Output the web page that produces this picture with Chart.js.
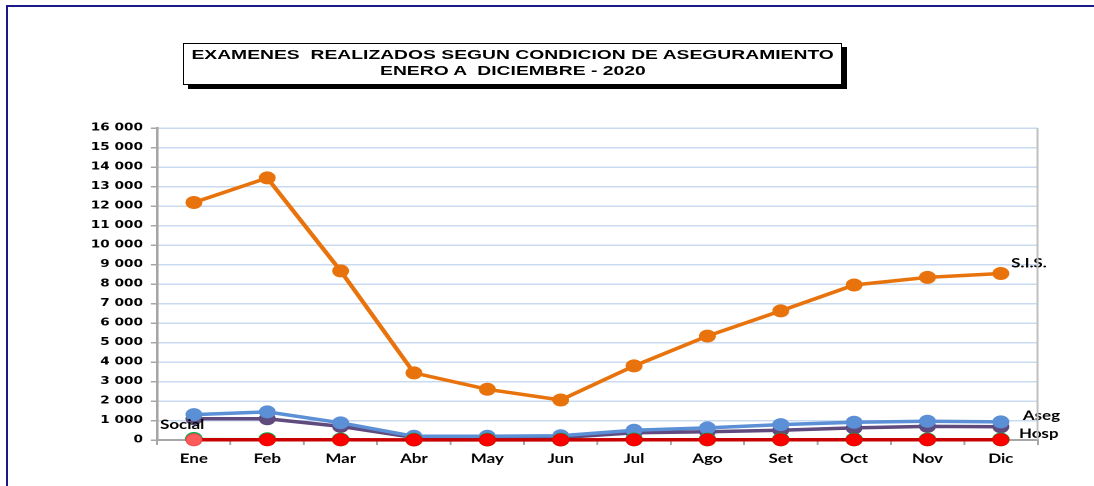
<!DOCTYPE html>
<html lang="es">
<head>
<meta charset="UTF-8">
<title>Examenes realizados 2020</title>
<script src="https://cdn.jsdelivr.net/npm/chart.js"></script>
<style>
  html, body { margin: 0; padding: 0; background: #fff; overflow: hidden; }
  body { width: 1094px; height: 486px; position: relative; }
  #marco {
    position: absolute; left: 6px; top: 5px; width: 1200px; height: 600px;
    border-left: 2px solid #1a1a86; border-top: 2px solid #1a1a86;
  }
  #titulo {
    position: absolute; left: 183px; top: 43px; width: 657px; height: 37px;
    border: 1px solid #000; background: #fff; box-shadow: 5px 4px 0 #000;
    font-family: "Liberation Sans", Arial, sans-serif; font-weight: bold;
    font-size: 13.5px; line-height: 16px; text-align: center; padding-top: 3px;
    box-sizing: content-box;
  }
  #titulo span { display: inline-block; transform: scaleX(1.43); white-space: pre; }
  /* el grafico original esta estirado a lo ancho */
  #lienzo {
    position: absolute; left: 0; top: 0; width: 842px; height: 486px;
    transform-origin: 0 0; transform: scaleX(1.2993);
  }
</style>
</head>
<body>
<div id="marco"></div>
<div id="lienzo"><canvas id="myChart" width="842" height="486" style="width:842px;height:486px"></canvas></div>
<div id="titulo"><span>EXAMENES  REALIZADOS SEGUN CONDICION DE ASEGURAMIENTO</span><br><span>ENERO A  DICIEMBRE - 2020</span></div>

<script>
  const meses = ['Ene', 'Feb', 'Mar', 'Abr', 'May', 'Jun', 'Jul', 'Ago', 'Set', 'Oct', 'Nov', 'Dic'];
  const sis = [12180, 13440, 8670, 3440, 2600, 2050, 3800, 5330, 6620, 7950, 8340, 8540];
  const aseg = [1300, 1440, 880, 190, 190, 220, 500, 620, 790, 910, 960, 930];
  const hosp = [1090, 1090, 700, 130, 120, 120, 370, 420, 500, 620, 700, 680];
  const social = [60, 50, 30, 20, 20, 20, 30, 30, 30, 30, 30, 30];
  const otros = [10, 10, 10, 5, 5, 5, 10, 10, 10, 10, 10, 10];
  const yLabels = ['0', '1 000', '2 000', '3 000', '4 000', '5 000', '6 000', '7 000', '8 000',
    '9 000', '10 000', '11 000', '12 000', '13 000', '14 000', '15 000', '16 000'];

  // etiquetas de serie junto a un punto
  const etiquetas = [
    { serie: 'S.I.S.', idx: 11, texto: 'S.I.S.', dx: 8, dy: -10 },
    { serie: 'Aseg', idx: 11, texto: 'Aseg', dx: 17, dy: -6 },
    { serie: 'Hosp', idx: 11, texto: 'Hosp', dx: 14, dy: 7 },
    { serie: 'Social', idx: 0, texto: 'Social', dx: -26, dy: -14 }
  ];

  const etiquetasPlugin = {
    id: 'etiquetas',
    afterDatasetsDraw(chart) {
      const ctx = chart.ctx;
      ctx.save();
      ctx.font = 'bold 13px Lato, sans-serif';
      ctx.fillStyle = '#000';
      ctx.textBaseline = 'middle';
      etiquetas.forEach(e => {
        const di = chart.data.datasets.findIndex(d => d.label === e.serie);
        const p = chart.getDatasetMeta(di).data[e.idx];
        ctx.fillText(e.texto, p.x + e.dx, p.y + e.dy);
      });
      ctx.restore();
    }
  };

  const bordeDerecho = {
    id: 'bordeDerecho',
    afterDraw(chart) {
      const a = chart.chartArea;
      const ctx = chart.ctx;
      ctx.save();
      ctx.strokeStyle = '#BFBFBF';
      ctx.lineWidth = 1.5;
      ctx.beginPath();
      ctx.moveTo(a.right, a.top);
      ctx.lineTo(a.right, a.bottom);
      ctx.stroke();
      ctx.restore();
    }
  };

  function serie(label, data, color, ancho, radio, borde) {
    return {
      label: label,
      data: data,
      borderColor: color,
      backgroundColor: color,
      borderWidth: ancho,
      pointRadius: radio,
      pointHoverRadius: radio,
      pointBackgroundColor: color,
      pointBorderColor: borde || color,
      pointBorderWidth: 1,
      tension: 0,
      clip: false
    };
  }

  const otrosSerie = serie('Otros', otros, '#FF0000', 3.5, 6);
  otrosSerie.pointBackgroundColor = otros.map((v, i) => i === 0 ? '#FF5B5B' : '#FF0000');
  otrosSerie.pointBorderColor = otros.map((v, i) => i === 0 ? '#F04848' : '#F00000');
  otrosSerie.borderColor = '#C80000';

  const ctx = document.getElementById('myChart').getContext('2d');
  new Chart(ctx, {
    type: 'line',
    data: {
      labels: meses,
      datasets: [
        otrosSerie,
        serie('Social', social, '#00B050', 2, 6.3),
        serie('Aseg', aseg, '#5B8FD6', 3.5, 6),
        serie('Hosp', hosp, '#5F4B7E', 3.5, 6),
        serie('S.I.S.', sis, '#E8730C', 3.5, 6)
      ]
    },
    options: {
      responsive: false,
      devicePixelRatio: 2,
      animation: false,
      layout: { padding: { left: 0, right: 43.5, top: 128, bottom: 0 } },
      plugins: {
        legend: { display: false },
        tooltip: { enabled: false }
      },
      scales: {
        x: {
          offset: true,
          grid: {
            display: true, offset: true, drawOnChartArea: false, drawTicks: true,
            tickLength: 5, color: '#A6A6A6', lineWidth: 1.5
          },
          border: { color: '#A6A6A6', width: 2 },
          ticks: {
            color: '#000', padding: 6,
            font: { family: 'Lato', weight: 'bold', size: 13 }
          },
          afterFit(scale) { scale.height = 46; }
        },
        y: {
          min: 0,
          max: 16000,
          grid: { color: '#C9DAF0', lineWidth: 1.5, tickColor: '#A6A6A6', tickLength: 5 },
          border: { color: '#A6A6A6', width: 2 },
          ticks: {
            stepSize: 1000, color: '#000', padding: 6,
            font: { family: 'DejaVu Sans', weight: 'bold', size: 10.5 },
            callback: (v, i) => yLabels[i]
          },
          afterFit(scale) { scale.width = 121; }
        }
      }
    },
    plugins: [etiquetasPlugin, bordeDerecho]
  });
</script>
</body>
</html>
